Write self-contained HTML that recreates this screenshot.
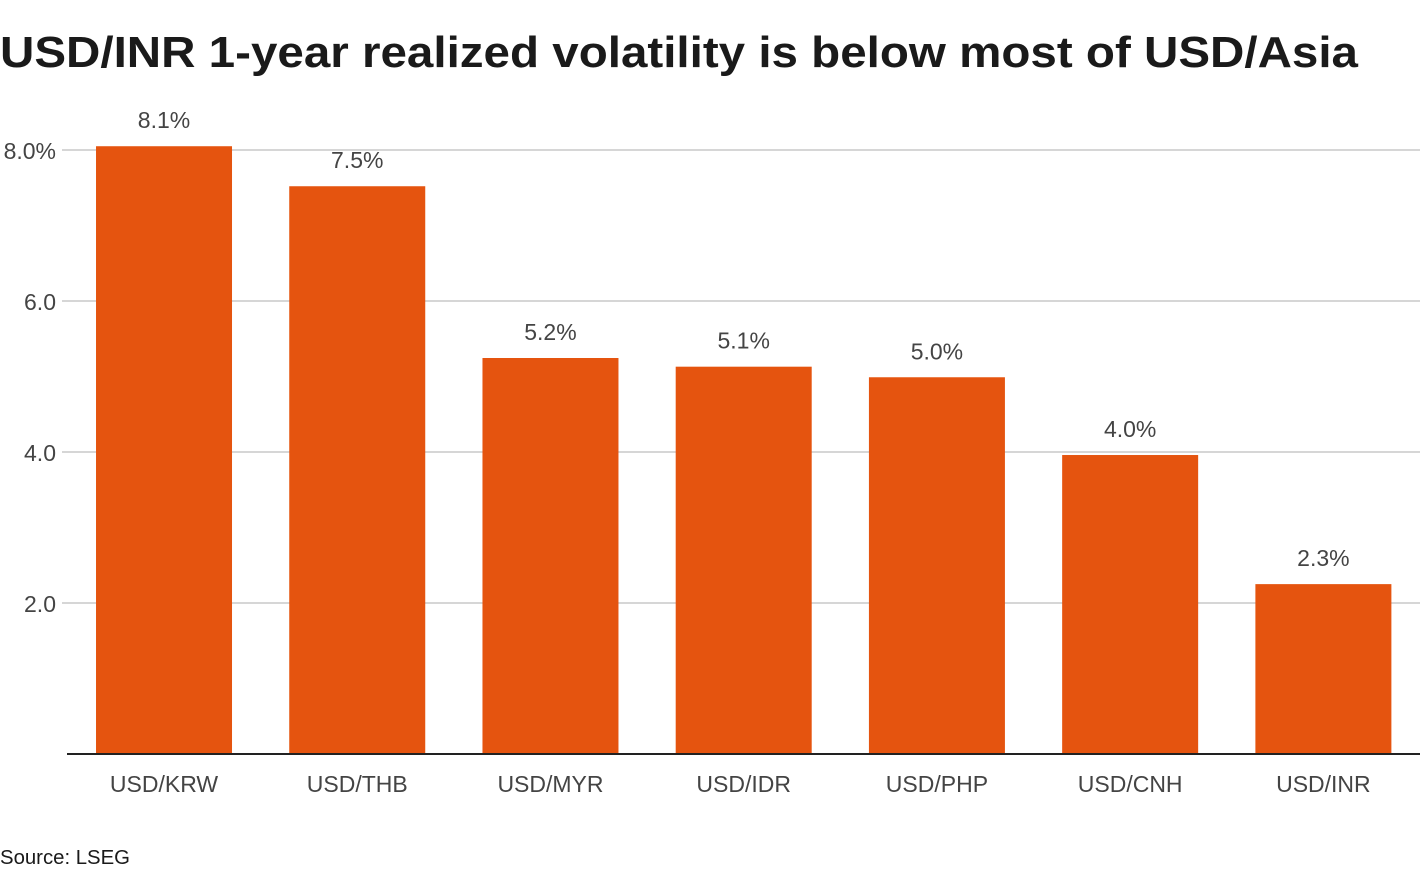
<!DOCTYPE html>
<html><head><meta charset="utf-8"><style>
body{margin:0;background:#fff;}
svg{display:block;font-family:"Liberation Sans",sans-serif;}
</style></head><body>
<svg id="chart" width="1420" height="876" viewBox="0 0 1420 876">
<text x="0" y="67" font-size="44" font-weight="bold" fill="#1a1a1a" textLength="1358" lengthAdjust="spacingAndGlyphs">USD/INR 1-year realized volatility is below most of USD/Asia</text>
<g id="grid"></g><g id="bars"></g><g id="labels"></g>
<text x="0" y="864" font-size="20" fill="#1a1a1a" textLength="130" lengthAdjust="spacingAndGlyphs">Source: LSEG</text>
</svg>
<script>
const categories=["USD/KRW","USD/THB","USD/MYR","USD/IDR","USD/PHP","USD/CNH","USD/INR"];
const values=[8.05,7.52,5.245,5.13,4.99,3.96,2.25];
const valueLabels=["8.1%","7.5%","5.2%","5.1%","5.0%","4.0%","2.3%"];
const yTicks=[2,4,6,8];
const yTickLabels=["2.0","4.0","6.0","8.0%"];
const NS="http://www.w3.org/2000/svg";
const x0=67.4,x1=1420,y0=754,yTop=150,yMax=8;
const step=(x1-x0)/categories.length,bw=136;
const y=v=>y0-(y0-yTop)*v/yMax;
const xb=i=>x0+step*i+(step-bw)/2;
function mk(t,a,p){const e=document.createElementNS(NS,t);for(const k in a)e.setAttribute(k,a[k]);p.appendChild(e);return e;}
const g=document.getElementById('grid'),b=document.getElementById('bars'),l=document.getElementById('labels');
yTicks.forEach((t,i)=>{
 const ln=mk('line',{x1:62,x2:1420,y1:y(t),y2:y(t),stroke:'#c8c8c8','stroke-width':1.5},g);
 
 
 const tx=mk('text',{x:56,y:y(t)+9,'text-anchor':'end','font-size':23,fill:'#444'},g);
 tx.textContent=yTickLabels[i];
 
 
});
categories.forEach((c,i)=>{
 const r=mk('rect',{x:xb(i),y:y(values[i]),width:bw,height:y0-y(values[i]),fill:'#e5540f'},b);
 
 
 const v=mk('text',{x:xb(i)+bw/2,y:y(values[i])-18,'text-anchor':'middle','font-size':23,fill:'#444'},l);
 v.textContent=valueLabels[i];
 
 
 const t=mk('text',{x:xb(i)+bw/2,y:792,'text-anchor':'middle','font-size':23,fill:'#444'},l);
 t.textContent=c;
 
 
});
const base=mk('line',{x1:67,x2:1420,y1:y0,y2:y0,stroke:'#222','stroke-width':2},l);


</script>
</body></html>
